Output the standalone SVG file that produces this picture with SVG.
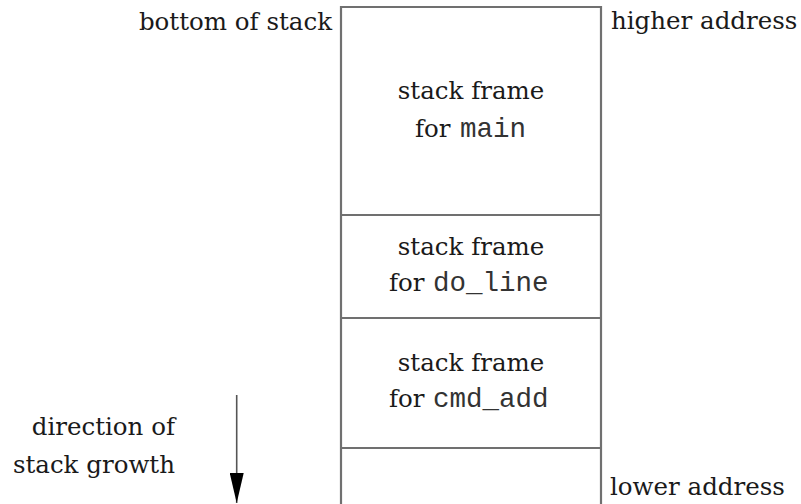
<svg xmlns="http://www.w3.org/2000/svg" width="801" height="504" viewBox="0 0 801 504">
<style>
.s{font-family:"DejaVu Serif","Liberation Serif",serif;font-size:24.5px;fill:#1a1a1a}
.m{font-family:"Liberation Mono","Courier New",monospace;font-size:27.5px;fill:#333}
.b{fill:none;stroke:#707070;stroke-width:2.2}
.c{text-anchor:middle}
.e{text-anchor:end}
</style>
<defs>
<marker id="ah" markerWidth="31" markerHeight="14" refX="30" refY="7" orient="auto" markerUnits="userSpaceOnUse" viewBox="0 0 31 14">
<path d="M0,0 L30,7 L0,14 Z" fill="#000"/>
</marker>
</defs>
<rect width="801" height="504" fill="#fff"/>
<g id="stack-outline">
<path class="b" d="M341,504 V7 H601 V504"/>
</g>
<g id="frame-main">
<text class="s c" x="471" y="99">stack frame</text>
<text class="s" x="415" y="137">for</text>
<text class="m" x="460" y="137">main</text>
<line class="b" x1="341" y1="215" x2="601" y2="215"/>
</g>
<g id="frame-do_line">
<text class="s c" x="471" y="255">stack frame</text>
<text class="s" x="389" y="291">for</text>
<text class="m" x="433" y="291">do_line</text>
<line class="b" x1="341" y1="318" x2="601" y2="318"/>
</g>
<g id="frame-cmd_add">
<text class="s c" x="471" y="371">stack frame</text>
<text class="s" x="389" y="407">for</text>
<text class="m" x="433" y="407">cmd_add</text>
<line class="b" x1="341" y1="448" x2="601" y2="448"/>
</g>
<g id="labels">
<text class="s e" x="332" y="30">bottom of stack</text>
<text class="s" x="611" y="29">higher address</text>
<text class="s" x="610" y="495">lower address</text>
<text class="s e" x="175" y="435">direction of</text>
<text class="s e" x="175" y="473">stack growth</text>
</g>
<g id="connectors">
<line x1="236.7" y1="395" x2="236.7" y2="503" stroke="#555" stroke-width="1.6" marker-end="url(#ah)"/>
</g>
</svg>
